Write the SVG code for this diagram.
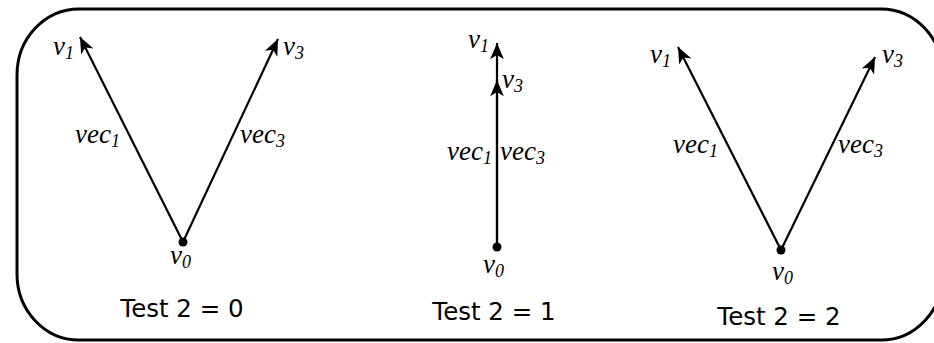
<svg xmlns="http://www.w3.org/2000/svg" width="934" height="343" viewBox="0 0 934 343">
<defs>
<marker id="arr" markerUnits="userSpaceOnUse" markerWidth="20" markerHeight="20" viewBox="-14 -7 16 14" refX="0" refY="0" orient="auto">
<path d="M0,0 L-13,-5.5 L-9.5,0 L-13,5.5 Z" fill="#000"/>
</marker>
</defs>
<style>
.frame{fill:#fff;stroke:#000;stroke-width:3}
.edge{stroke:#000;stroke-width:2.2;fill:none;marker-end:url(#arr)}
.dot{fill:#000}
.m{font-family:"Liberation Serif","Times New Roman",serif;font-style:italic;font-size:27px;fill:#000}
.s{font-size:18px}
.t{font-family:"DejaVu Sans",sans-serif;font-size:24.5px;fill:#000;text-anchor:middle}
</style>
<rect class="frame" x="17" y="9" width="926" height="331" rx="62" ry="66"/>
<g id="connectors">
<line class="edge" x1="183" y1="242" x2="80" y2="37"/>
<line class="edge" x1="183" y1="242" x2="278" y2="39"/>
<line class="edge" x1="497" y1="247" x2="497" y2="43"/>
<line class="edge" x1="497" y1="247" x2="497" y2="80"/>
<line class="edge" x1="781" y1="250" x2="678" y2="47"/>
<line class="edge" x1="781" y1="250" x2="875" y2="57"/>
</g>
<g id="panel0">
<g id="p0_v0"><circle class="dot" cx="183" cy="242" r="4.5"/><text class="m" x="170" y="264">v<tspan class="s" dy="4">0</tspan></text></g>
<g id="p0_v1"><text class="m" x="53" y="55">v<tspan class="s" dy="4">1</tspan></text></g>
<g id="p0_v3"><text class="m" x="283" y="55">v<tspan class="s" dy="4">3</tspan></text></g>
<text class="m" x="75" y="143">vec<tspan class="s" dy="4">1</tspan></text>
<text class="m" x="240" y="143">vec<tspan class="s" dy="4">3</tspan></text>
<text class="t" x="182" y="317">Test 2 = 0</text>
</g>
<g id="panel1">
<g id="p1_v0"><circle class="dot" cx="497" cy="247" r="4.5"/><text class="m" x="483" y="273">v<tspan class="s" dy="4">0</tspan></text></g>
<g id="p1_v1"><text class="m" x="468" y="48">v<tspan class="s" dy="4">1</tspan></text></g>
<g id="p1_v3"><text class="m" x="502" y="88">v<tspan class="s" dy="4">3</tspan></text></g>
<text class="m" x="447" y="160">vec<tspan class="s" dy="4">1</tspan></text>
<text class="m" x="500" y="160">vec<tspan class="s" dy="4">3</tspan></text>
<text class="t" x="494" y="320">Test 2 = 1</text>
</g>
<g id="panel2">
<g id="p2_v0"><circle class="dot" cx="781" cy="250" r="4.5"/><text class="m" x="772" y="280">v<tspan class="s" dy="4">0</tspan></text></g>
<g id="p2_v1"><text class="m" x="650" y="63">v<tspan class="s" dy="4">1</tspan></text></g>
<g id="p2_v3"><text class="m" x="882" y="63">v<tspan class="s" dy="4">3</tspan></text></g>
<text class="m" x="673" y="153">vec<tspan class="s" dy="4">1</tspan></text>
<text class="m" x="838" y="153">vec<tspan class="s" dy="4">3</tspan></text>
<text class="t" x="779" y="325">Test 2 = 2</text>
</g>
</svg>
